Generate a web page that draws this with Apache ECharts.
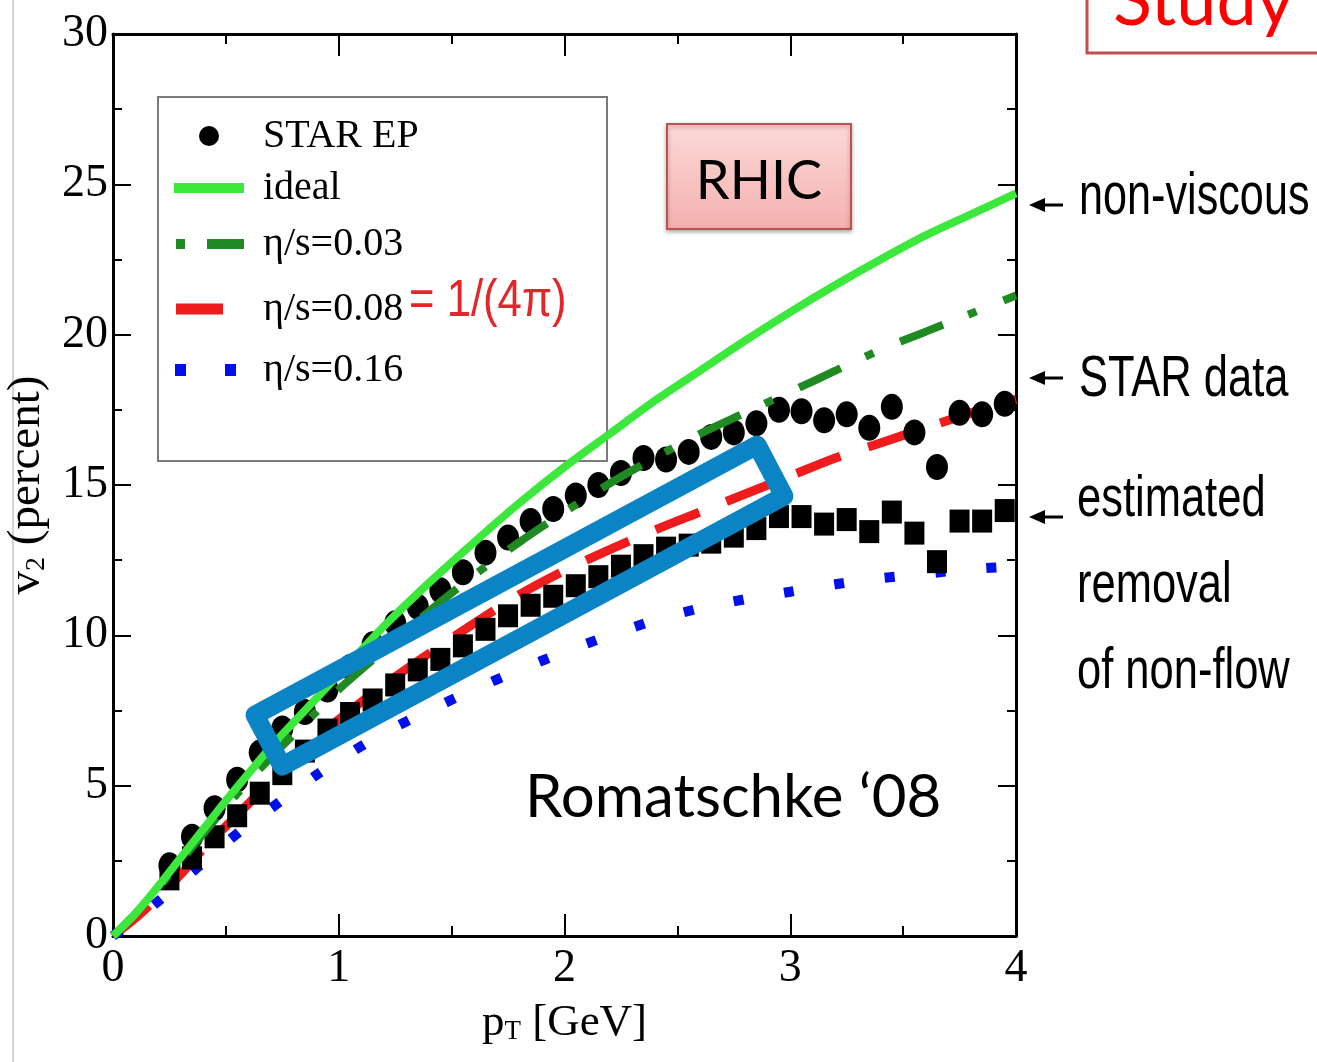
<!DOCTYPE html>
<html><head><meta charset="utf-8">
<script src="https://cdn.jsdelivr.net/npm/echarts@6/dist/echarts.min.js"></script>
<style>html,body{margin:0;padding:0;background:#fff}#c{width:1317px;height:1062px}</style>
</head><body><div id="c"></div>
<script>
// ---------- data ----------
const ptData = [0.25,0.35,0.45,0.55,0.65,0.75,0.85,0.95,1.05,1.15,1.25,1.35,1.45,1.55,1.65,1.75,1.85,1.95,2.05,2.15,
                2.25,2.35,2.45,2.55,2.65,2.75,2.85,2.95,3.05,3.15,3.25,3.35,3.45,3.55,3.65,3.75,3.85,3.95];
const v2StarEP = [2.35,3.3,4.25,5.2,6.1,6.9,7.45,8.2,8.95,9.7,10.4,10.95,11.5,12.1,12.75,13.25,13.8,14.2,14.65,15.0,
                  15.4,15.9,15.85,16.1,16.6,16.75,17.05,17.5,17.45,17.15,17.35,16.9,17.6,16.75,15.6,17.4,17.35,17.7];
const v2NonFlowRemoved = [1.9,2.6,3.3,4.0,4.75,5.4,6.15,6.85,7.4,7.85,8.35,8.85,9.2,9.65,10.2,10.65,11.0,11.3,11.65,11.95,
                  12.3,12.65,12.9,13.0,13.1,13.3,13.55,13.95,13.95,13.7,13.85,13.45,14.1,13.4,12.45,13.8,13.8,14.15];
const ptModel = [0,0.1,0.2,0.3,0.4,0.5,0.6,0.7,0.8,0.9,1.0,1.2,1.4,1.6,1.8,2.0,2.2,2.4,2.6,2.8,3.0,3.2,3.4,3.6,3.8,4.0];
const v2Ideal  = [0,0.75,1.65,2.6,3.55,4.5,5.4,6.3,7.1,7.9,8.7,10.3,11.75,13.1,14.4,15.6,16.7,17.8,18.8,19.8,20.75,21.65,22.5,23.3,24.0,24.7];
const v2Eta003 = [0,0.75,1.6,2.5,3.4,4.3,5.15,5.95,6.7,7.45,8.2,9.5,10.8,12.0,13.1,14.1,15.05,15.9,16.7,17.4,18.1,18.8,19.5,20.1,20.7,21.3];
const v2Eta008 = [0,0.6,1.3,2.05,2.9,3.65,4.4,5.15,5.9,6.6,7.2,8.35,9.4,10.4,11.35,12.15,12.85,13.5,14.1,14.7,15.3,15.9,16.4,16.9,17.4,17.85];
const v2Eta016 = [0,0.55,1.15,1.8,2.45,3.1,3.7,4.25,4.8,5.35,5.85,6.75,7.5,8.2,8.85,9.45,10.0,10.5,10.9,11.2,11.45,11.7,11.9,12.05,12.2,12.3];
const highlightBox = [[0.629,7.35],[2.853,16.33],[2.972,14.63],[0.749,5.65],[0.629,7.35],[2.853,16.33]];
const xTickValues = [0,1,2,3,4];
const yTickValues = [0,5,10,15,20,25,30];
const seriesNames = ['STAR EP','ideal','η/s=0.03','η/s=0.08','η/s=0.16'];

// ---------- build ----------
const zip = (xs, ys) => xs.map((x, i) => [x, ys[i]]);
const serif = '"Liberation Serif", "Times New Roman", serif';
const sans = '"Liberation Sans", Arial, sans-serif';
const calibri = 'Lato, "Open Sans", sans-serif';

function axisCommon(extra) {
  return Object.assign({
    type: 'value', gridIndex: 0,
    axisLine: { show: true, onZero: false, lineStyle: { color: '#000', width: 3 } },
    splitLine: { show: false },
  }, extra);
}
function narrowText(x, y, text, size, sx, color) {
  return { type: 'text', x: x, y: y, scaleX: sx, z: 11,
    style: { x: 0, y: 0, text: text, font: size + 'px ' + sans, fill: color || '#000', align: 'left', verticalAlign: 'middle' } };
}
function arrow(y) {
  return { type: 'group', z: 11, children: [
    { type: 'line', shape: { x1: 1040, y1: y, x2: 1063, y2: y }, style: { stroke: '#000', lineWidth: 3 } },
    { type: 'polygon', shape: { points: [[1029, y], [1045, y - 7], [1045, y + 7]] }, style: { fill: '#000' } }
  ] };
}
const hidden = { opacity: 0 };

const chart = echarts.init(document.getElementById('c'), null, { renderer: 'canvas' });
const option = {
  animation: false,
  backgroundColor: '#fff',
  grid: { left: 113, right: 301, top: 34, bottom: 126, containLabel: false, outerBoundsMode: 'none' },
  xAxis: [
    axisCommon({ position: 'bottom', min: xTickValues[0], max: xTickValues[xTickValues.length-1], interval: 1,
      axisTick: { inside: true, length: 22, lineStyle: { color: '#000', width: 2 } },
      minorTick: { show: true, splitNumber: 2, length: 10, lineStyle: { color: '#000', width: 2 } },
      axisLabel: { color: '#000', fontFamily: serif, fontSize: 46, margin: 10 },
      name: '{p|p}{s|T}{p| [GeV]}', nameLocation: 'middle', nameGap: 60,
      nameTextStyle: { rich: { p: { fontFamily: serif, fontSize: 45, color: '#000', lineHeight: 46 },
                              s: { fontFamily: serif, fontSize: 27, color: '#000', verticalAlign: 'bottom', lineHeight: 26, padding: [22,0,0,0] } } } }),
    axisCommon({ position: 'top', min: 0, max: 4, interval: 1,
      axisTick: { inside: true, length: 22, lineStyle: { color: '#000', width: 2 } },
      minorTick: { show: true, splitNumber: 2, length: 10, lineStyle: { color: '#000', width: 2 } },
      axisLabel: { show: false } })
  ],
  yAxis: [
    axisCommon({ position: 'left', min: yTickValues[0], max: yTickValues[yTickValues.length-1], interval: 5,
      axisTick: { inside: true, length: 18, lineStyle: { color: '#000', width: 2 } },
      minorTick: { show: true, splitNumber: 2, length: 9, lineStyle: { color: '#000', width: 2 } },
      axisLabel: { color: '#000', fontFamily: serif, fontSize: 46, margin: 5 },
      name: '{p|v}{s|2}{p| (percent)}', nameLocation: 'middle', nameGap: 60, nameRotate: 90,
      nameTextStyle: { rich: { p: { fontFamily: serif, fontSize: 47, color: '#000', lineHeight: 48 },
                              s: { fontFamily: serif, fontSize: 28, color: '#000', verticalAlign: 'bottom', lineHeight: 26, padding: [22,0,0,0] } } } }),
    axisCommon({ position: 'right', min: 0, max: 30, interval: 5,
      axisTick: { inside: true, length: 18, lineStyle: { color: '#000', width: 2 } },
      minorTick: { show: true, splitNumber: 2, length: 9, lineStyle: { color: '#000', width: 2 } },
      axisLabel: { show: false } })
  ],
  legend: {
    orient: 'vertical', left: 168, top: 114, itemWidth: 70, itemHeight: 20, itemGap: 8, padding: 0,
    selectedMode: false,
    data: [
      { name: seriesNames[0], icon: 'circle', itemStyle: { color: '#000', opacity: 1 } },
      { name: seriesNames[1], itemStyle: hidden, lineStyle: { width: 10 } },
      { name: seriesNames[2], itemStyle: hidden, lineStyle: { width: 10, type: [9, 22, 39, 29], dashOffset: -2 },
        textStyle: { lineHeight: 52 } },
      { name: seriesNames[3], itemStyle: hidden, lineStyle: { width: 11, type: [47, 40] }, textStyle: { lineHeight: 62 } },
      { name: seriesNames[4], itemStyle: hidden, lineStyle: { width: 12, type: [11, 39], dashOffset: -1 } }
    ],
    textStyle: { padding: [0, 0, 0, 14], fontFamily: serif, fontSize: 40, lineHeight: 44, color: '#000' }
  },
  series: [
    { name: seriesNames[3], type: 'line', data: zip(ptModel, v2Eta008), smooth: 0.3, showSymbol: false, symbol: 'none', z: 2,
      itemStyle: { color: '#ee1c1c' }, lineStyle: { color: '#ee1c1c', width: 9, type: [47, 29], cap: 'butt' } },
    { name: seriesNames[4], type: 'line', data: zip(ptModel, v2Eta016), smooth: 0.3, showSymbol: false, symbol: 'none', z: 2,
      itemStyle: { color: '#0010e8' }, lineStyle: { color: '#0010e8', width: 10, type: [10, 41], cap: 'butt' } },
    { name: 'nonflow', type: 'scatter', data: zip(ptData, v2NonFlowRemoved), symbol: 'rect', symbolSize: [20, 23], z: 3,
      itemStyle: { color: '#000', opacity: 1 } },
    { name: seriesNames[0], type: 'scatter', data: zip(ptData, v2StarEP), symbol: 'circle', symbolSize: [22, 26], z: 3,
      itemStyle: { color: '#000', opacity: 1 } },
    { name: seriesNames[2], type: 'line', data: zip(ptModel, v2Eta003), smooth: 0.3, showSymbol: false, symbol: 'none', z: 4,
      itemStyle: { color: '#1f8a22' }, lineStyle: { color: '#1f8a22', width: 8, type: [46, 27, 9, 29], cap: 'butt' } },
    { name: seriesNames[1], type: 'line', data: zip(ptModel, v2Ideal), smooth: 0.3, showSymbol: false, symbol: 'none', z: 4,
      itemStyle: { color: '#3be83b' }, lineStyle: { color: '#3be83b', width: 8 } },
    { name: 'box', type: 'line', data: highlightBox, showSymbol: false, symbol: 'none', z: 6, silent: true,
      lineStyle: { color: '#0b84c6', width: 19, join: 'round', cap: 'round' } }
  ],
  graphic: [
    { type: 'line', shape: { x1: 13, y1: 0, x2: 13, y2: 1062 }, style: { stroke: '#d4d4d4', lineWidth: 2 }, z: 0 },
    { type: 'rect', shape: { x: 158, y: 97, width: 449, height: 364 }, style: { fill: 'none', stroke: '#7a7a7a', lineWidth: 2 }, z: 1 },
    narrowText(409, 302, '= 1/(4π)', 52, 0.84, '#e3262a'),
    { type: 'rect', shape: { x: 667, y: 124, width: 184, height: 105 },
      style: { fill: new echarts.graphic.LinearGradient(0,0,0,1,[{offset:0,color:'#fbd9d8'},{offset:1,color:'#f4b1af'}]),
               stroke: '#c0504d', lineWidth: 2, shadowBlur: 4, shadowColor: 'rgba(0,0,0,0.3)', shadowOffsetY: 2 }, z: 10 },
    { type: 'text', x: 759, y: 182, z: 11, style: { text: 'RHIC', font: '54px ' + calibri, fill: '#000', align: 'center', verticalAlign: 'middle' } },
    { type: 'rect', shape: { x: 1087, y: -10, width: 260, height: 63 }, style: { fill: '#fff', stroke: '#c0504d', lineWidth: 3 }, z: 10 },
    { type: 'text', x: 1113, y: 2, z: 11, style: { text: 'Study', font: '72px ' + calibri, fill: '#ff0000', align: 'left', verticalAlign: 'middle' } },
    { type: 'text', x: 525, y: 798, z: 11, style: { text: 'Romatschke ‘08', font: '60px ' + calibri, fill: '#000', align: 'left', verticalAlign: 'middle' } },
    arrow(205), arrow(378), arrow(517),
    narrowText(1079, 197, 'non-viscous', 60, 0.72),
    narrowText(1079, 380, 'STAR data', 58, 0.75),
    narrowText(1077, 500, 'estimated', 58, 0.75),
    narrowText(1077, 586, 'removal', 58, 0.75),
    narrowText(1077, 672, 'of non-flow', 58, 0.75)
  ]
};
chart.setOption(option);
</script>
</body></html>
